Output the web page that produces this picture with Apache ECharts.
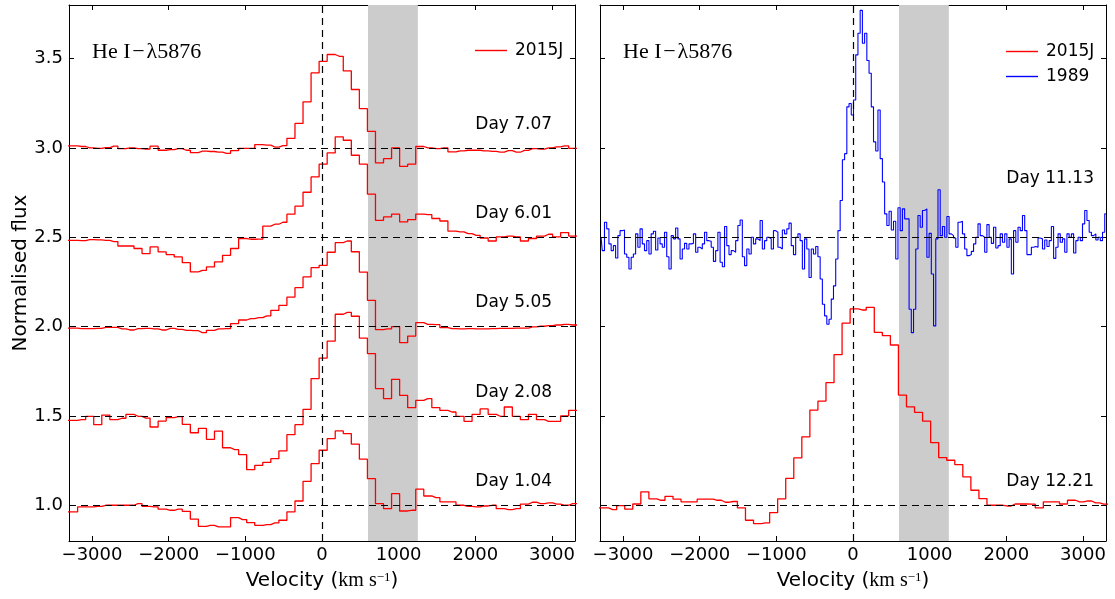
<!DOCTYPE html>
<html><head><meta charset="utf-8">
<script src="https://cdn.jsdelivr.net/npm/echarts@6/dist/echarts.min.js"></script>
<style>html,body{margin:0;padding:0;background:#fff}#c{width:1115px;height:599px}</style>
</head><body><div id="c"></div>
<script>
// ---- data ----
const velocity = [-3345,-3240,-3135,-3030,-2925,-2820,-2715,-2610,-2505,-2400,-2295,-2190,-2085,-1980,-1875,-1770,-1665,-1560,-1455,-1350,-1245,-1140,-1035,-930,-825,-720,-615,-510,-405,-300,-195,-90,15,120,225,330,435,540,645,750,855,960,1065,1170,1275,1380,1485,1590,1695,1800,1905,2010,2115,2220,2325,2430,2535,2640,2745,2850,2955,3060,3165,3270,3375];

const day707 = [3.011,3.011,3.008,3.0,2.998,3.002,3.01,2.996,3.0,2.996,2.994,3.01,2.987,2.99,2.996,2.987,2.974,2.982,2.98,2.976,2.97,2.985,2.998,2.997,3.019,3.016,3.005,3.013,3.054,3.137,3.258,3.42,3.485,3.523,3.513,3.431,3.327,3.22,3.093,2.916,2.94,3.0,2.897,2.909,3.008,3.0,2.996,3.0,2.978,2.983,2.987,2.987,2.983,2.981,2.976,2.985,2.976,2.986,2.996,2.993,3.0,3.006,3.011,2.998,2.998];
const day601 = [2.483,2.483,2.481,2.487,2.485,2.483,2.476,2.451,2.451,2.437,2.409,2.446,2.418,2.403,2.39,2.358,2.306,2.315,2.334,2.362,2.399,2.437,2.493,2.489,2.49,2.562,2.573,2.584,2.629,2.674,2.752,2.838,2.909,2.972,3.062,3.043,2.959,2.909,2.741,2.595,2.614,2.629,2.586,2.599,2.63,2.627,2.605,2.591,2.534,2.53,2.52,2.511,2.496,2.479,2.502,2.506,2.502,2.479,2.493,2.506,2.517,2.502,2.526,2.506,2.506];
const day505 = [1.992,1.992,1.989,1.989,1.99,1.996,1.996,1.987,1.981,1.989,1.99,1.987,1.981,1.99,1.985,1.979,1.977,1.966,1.979,1.987,1.989,2.017,2.037,2.045,2.05,2.06,2.091,2.119,2.165,2.218,2.278,2.33,2.343,2.416,2.47,2.479,2.419,2.305,2.147,1.983,1.987,2.0,1.91,1.947,2.022,2.013,2.011,1.994,1.989,1.987,1.989,1.987,1.987,1.989,1.99,1.99,1.992,1.992,1.998,2.002,2.005,2.009,2.013,2.009,2.009];
const day208 = [1.475,1.475,1.479,1.498,1.451,1.505,1.479,1.487,1.509,1.498,1.488,1.438,1.471,1.49,1.496,1.453,1.406,1.43,1.369,1.415,1.322,1.311,1.283,1.199,1.223,1.24,1.261,1.304,1.395,1.451,1.537,1.709,1.824,1.919,2.069,2.08,2.058,1.936,1.849,1.653,1.597,1.705,1.615,1.546,1.587,1.597,1.546,1.531,1.522,1.498,1.47,1.509,1.539,1.509,1.498,1.55,1.498,1.479,1.509,1.479,1.47,1.47,1.5,1.531,1.531];
const day104 = [0.963,0.963,0.991,0.991,0.994,1.0,1.0,1.0,1.0,1.009,0.994,0.991,0.978,0.972,0.978,0.966,0.922,0.882,0.888,0.879,0.879,0.931,0.92,0.903,0.888,0.892,0.901,0.916,0.963,1.024,1.134,1.233,1.308,1.373,1.416,1.401,1.342,1.258,1.149,1.009,0.981,1.065,0.968,0.972,1.09,1.052,1.043,1.019,1.019,1.0,0.994,0.991,0.996,1.0,0.981,0.976,0.981,1.006,1.017,1.009,1.013,1.006,1.0,1.009,1.009];
const day1221 = [0.985,0.985,0.976,0.998,0.978,1.007,1.075,1.036,1.028,1.05,1.034,1.019,1.019,1.034,1.034,1.028,1.017,1.021,0.985,0.916,0.897,0.901,0.959,1.036,1.15,1.265,1.383,1.533,1.583,1.686,1.843,2.019,2.099,2.093,2.108,1.968,1.95,1.897,1.617,1.551,1.52,1.471,1.351,1.267,1.252,1.228,1.159,1.084,1.037,1.0,1.0,0.996,1.007,1.007,1.006,0.985,1.019,1.019,1.007,1.028,1.019,1.024,1.013,1.006,1.006];

const blueVelocity = [-3285,-3256,-3227,-3198,-3169,-3140,-3111,-3082,-3053,-3024,-2995,-2966,-2937,-2908,-2879,-2850,-2821,-2792,-2763,-2734,-2705,-2676,-2647,-2618,-2589,-2560,-2531,-2502,-2473,-2444,-2415,-2386,-2357,-2328,-2299,-2270,-2241,-2212,-2183,-2154,-2125,-2096,-2067,-2038,-2009,-1980,-1951,-1922,-1893,-1864,-1835,-1806,-1777,-1748,-1719,-1690,-1661,-1632,-1603,-1574,-1545,-1516,-1487,-1458,-1429,-1400,-1371,-1342,-1313,-1284,-1255,-1226,-1197,-1168,-1139,-1110,-1081,-1052,-1023,-994,-965,-936,-907,-878,-849,-820,-791,-762,-733,-704,-675,-646,-617,-588,-559,-530,-501,-472,-443,-414,-385,-356,-327,-298,-269,-240,-211,-182,-153,-124,-95,-66,-37,-8,21,50,79,108,137,166,195,224,253,282,311,340,369,398,427,456,485,514,543,572,601,630,659,688,717,746,775,804,833,862,891,920,949,978,1007,1036,1065,1094,1123,1152,1181,1210,1239,1268,1297,1326,1355,1384,1413,1442,1471,1500,1529,1558,1587,1616,1645,1674,1703,1732,1761,1790,1819,1848,1877,1906,1935,1964,1993,2022,2051,2080,2109,2138,2167,2196,2225,2254,2283,2312,2341,2370,2399,2428,2457,2486,2515,2544,2573,2602,2631,2660,2689,2718,2747,2776,2805,2834,2863,2892,2921,2950,2979,3008,3037,3066,3095,3124,3153,3182,3211,3240,3269,3298];
const sn1989 = [2.496,2.425,2.584,2.547,2.463,2.425,2.453,2.384,2.509,2.537,2.541,2.406,2.388,2.322,2.388,2.406,2.519,2.444,2.547,2.463,2.425,2.481,2.406,2.519,2.534,2.429,2.496,2.463,2.444,2.528,2.391,2.322,2.509,2.491,2.552,2.491,2.378,2.434,2.466,2.434,2.463,2.466,2.519,2.416,2.444,2.434,2.463,2.528,2.481,2.478,2.444,2.365,2.425,2.528,2.36,2.335,2.56,2.453,2.403,2.425,2.416,2.481,2.566,2.597,2.391,2.341,2.434,2.406,2.5,2.463,2.491,2.481,2.594,2.434,2.481,2.5,2.491,2.434,2.537,2.528,2.444,2.434,2.541,2.519,2.547,2.579,2.453,2.403,2.5,2.519,2.481,2.322,2.491,2.434,2.275,2.434,2.406,2.448,2.391,2.266,2.125,2.06,2.013,2.041,2.154,2.228,2.378,2.537,2.706,2.934,2.968,3.23,3.249,3.184,
3.268,3.521,3.642,3.77,3.586,3.642,3.489,3.418,3.23,3.034,2.983,3.212,2.94,2.809,2.631,2.566,2.646,2.541,2.59,2.378,2.665,2.537,2.659,2.603,2.603,2.097,1.966,2.097,2.434,2.622,2.556,2.65,2.659,2.388,2.522,2.294,2.004,2.491,2.766,2.509,2.56,2.5,2.616,2.519,2.509,2.496,2.444,2.584,2.59,2.519,2.434,2.397,2.403,2.421,2.463,2.5,2.575,2.509,2.5,2.416,2.571,2.5,2.466,2.556,2.44,2.453,2.519,2.472,2.519,2.444,2.491,2.294,2.537,2.472,2.556,2.537,2.622,2.537,2.403,2.403,2.444,2.448,2.444,2.496,2.491,2.434,2.485,2.448,2.481,2.56,2.382,2.444,2.519,2.472,2.491,2.416,2.519,2.5,2.519,2.412,2.481,2.5,2.481,2.575,2.65,2.594,2.528,2.509,2.519,2.485,2.5,2.481,2.528,2.631];

const xTicks = [-3000,-2000,-1000,0,1000,2000,3000];
const yTicks = [1.0,1.5,2.0,2.5,3.0,3.5];
const leftBaselines = [3.0,2.5,2.0,1.5,1.0];
const leftDays = ['Day 7.07','Day 6.01','Day 5.05','Day 2.08','Day 1.04'];
const rightBaselines = [2.5,1.0];
const rightDays = ['Day 11.13','Day 12.21'];
const bandRange = [600,1250];
const lineTitle = 'He I\u200a\u2212\u200a\u03bb5876';

// ---- chart ----
const SANS = 'DejaVu Sans', SERIF = 'Liberation Serif';
const pairs = (xs, ys) => xs.map((x, i) => [x, ys[i]]);
const fmtX = v => (v < 0 ? '\u2212' + Math.abs(v) : String(v));
const grids = [{left: 69, top: 5, width: 506, height: 536}, {left: 600, top: 5, width: 506, height: 536}];

function xAx(g, pos, labels) {
  const a = {
    gridIndex: g, type: 'value', min: -3300, max: 3300, position: pos,
    axisLine: {show: true, onZero: false, lineStyle: {color: '#000', width: 1}},
    axisTick: {show: true, inside: true, length: 5, customValues: xTicks, lineStyle: {color: '#000', width: 1}},
    axisLabel: {show: labels, customValues: xTicks, formatter: fmtX, fontSize: 18, fontFamily: SANS, color: '#000', margin: 5},
    splitLine: {show: false}
  };
  if (labels) {
    a.name = '{a|Velocity (}{b|km s}{c|\u22121}{a|)}';
    a.nameLocation = 'middle';
    a.nameGap = 30;
    a.nameTextStyle = {rich: {
      a: {fontFamily: SANS, fontSize: 20, color: '#000'},
      b: {fontFamily: SERIF, fontSize: 20, color: '#000'},
      c: {fontFamily: SERIF, fontSize: 13, color: '#000', verticalAlign: 'top'}
    }};
  }
  return a;
}
function yAx(g, pos, labels, name) {
  const a = {
    gridIndex: g, type: 'value', min: 0.8, max: 3.8, position: pos,
    axisLine: {show: true, onZero: false, lineStyle: {color: '#000', width: 1}},
    axisTick: {show: true, inside: true, length: 5, customValues: yTicks, lineStyle: {color: '#000', width: 1}},
    axisLabel: {show: labels, customValues: yTicks, formatter: v => v.toFixed(1), fontSize: 18, fontFamily: SANS, color: '#000', margin: 6},
    splitLine: {show: false}
  };
  if (name) {
    a.name = name; a.nameLocation = 'middle'; a.nameGap = 38; a.nameRotate = 90;
    a.nameTextStyle = {fontFamily: SANS, fontSize: 20, color: '#000'};
  }
  return a;
}

function stepSeries(name, xs, ys, color, width, xi, yi) {
  return {name, type: 'line', xAxisIndex: xi, yAxisIndex: yi, data: pairs(xs, ys), step: 'middle',
    symbol: 'none', showSymbol: false, z: 5, lineStyle: {color, width}, itemStyle: {color}, emphasis: {disabled: true}};
}
function guides(xi, yi, baselines) {
  return {type: 'line', xAxisIndex: xi, yAxisIndex: yi, data: [], z: 1, silent: true,
    markArea: {silent: true, itemStyle: {color: '#cccccc'}, data: [[{xAxis: bandRange[0]}, {xAxis: bandRange[1]}]]},
    markLine: {silent: true, z: 6, symbol: ['none', 'none'], label: {show: false},
      lineStyle: {type: [7, 5], color: '#000', width: 1.2},
      data: baselines.map(v => ({yAxis: v})).concat([{xAxis: 0}])}
  };
}
function textSeries(xi, yi, items, font, size) {
  return {type: 'scatter', xAxisIndex: xi, yAxisIndex: yi, symbolSize: 0, z: 7, silent: true,
    itemStyle: {opacity: 1},
    data: items, label: {show: true, position: 'right', distance: 0, formatter: p => p.data[2], opacity: 1,
      fontFamily: font, fontSize: size, color: '#000', verticalAlign: 'middle'}};
}
function legendAt(names, left, top) {
  return {data: names, orient: 'vertical', left, top, icon: 'rect', itemWidth: 32, itemHeight: 1.4, itemGap: 8,
    textStyle: {fontFamily: SANS, fontSize: 17, color: '#000', padding: [0, 0, 0, 3]}, selectedMode: false};
}

const leftSeries = [day707, day601, day505, day208, day104].map(d => stepSeries('2015J', velocity, d, '#ff0000', 1.3, 0, 0));

const option = {
  animation: false,
  grid: grids,
  xAxis: [xAx(0, 'bottom', true), xAx(0, 'top', false), xAx(1, 'bottom', true), xAx(1, 'top', false)],
  yAxis: [yAx(0, 'left', true, 'Normalised flux'), yAx(0, 'right', false), yAx(1, 'left', false), yAx(1, 'right', false)],
  legend: [legendAt(['2015J'], 470, 37), legendAt(['2015J', '1989'], 1001, 38)],
  series: [
    guides(0, 0, leftBaselines),
    guides(2, 2, rightBaselines),
    ...leftSeries,
    stepSeries('2015J', velocity, day1221, '#ff0000', 1.3, 2, 2),
    stepSeries('1989', blueVelocity, sn1989, '#0000ff', 1.1, 2, 2),
    textSeries(0, 0, leftDays.map((t, i) => [2000, leftBaselines[i] + 0.133, t]), SANS, 17),
    textSeries(2, 2, [[2000, rightBaselines[0] + 0.33, rightDays[0]], [2000, rightBaselines[1] + 0.134, rightDays[1]]], SANS, 17),
    textSeries(0, 0, [[-3000, 3.537, lineTitle]], SERIF, 22),
    textSeries(2, 2, [[-3000, 3.537, lineTitle]], SERIF, 22)
  ]
};
const chart = echarts.init(document.getElementById('c'), null, {renderer: 'canvas'});
chart.setOption(option);
</script></body></html>
